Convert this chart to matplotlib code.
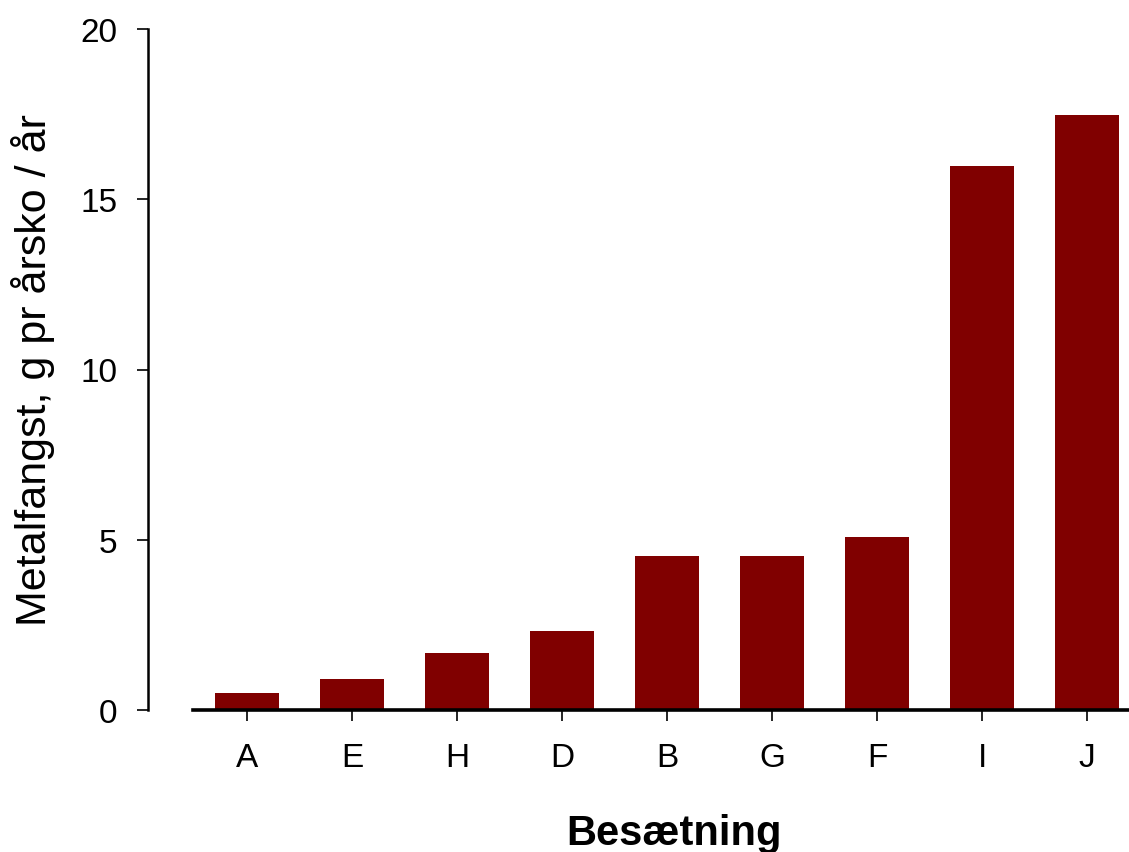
import numpy as np
import matplotlib.pyplot as plt

plt.rcParams['font.family'] = ['Liberation Sans', 'DejaVu Sans']

herds = ['A', 'E', 'H', 'D', 'B', 'G', 'F', 'I', 'J']
catch_g = [0.5, 0.92, 1.67, 2.32, 4.52, 4.53, 5.08, 15.98, 17.47]

fig = plt.figure(figsize=(11.29, 8.53), dpi=100)
ax = fig.add_axes([148/1129, 142/853, 981/1129, 681/853])

x = np.arange(len(herds))
ax.bar(x, catch_g, width=0.61, color='#800000', zorder=2)

ax.set_xlim(-0.943, 8.4)
ax.set_ylim(0, 20)
ax.set_yticks([0, 5, 10, 15, 20])
ax.set_xticks(x)
ax.set_xticklabels(herds)

ax.spines['top'].set_visible(False)
ax.spines['right'].set_visible(False)
ax.spines['left'].set_linewidth(1.8)
ax.spines['bottom'].set_linewidth(2.6)
ax.spines['bottom'].set_bounds(-0.514, 8.4)
ax.spines['bottom'].set_zorder(3)

ax.tick_params(axis='y', direction='out', length=8, width=1.2, labelsize=24, pad=14)
ax.tick_params(axis='x', direction='out', length=8, width=1.2, labelsize=24, pad=15)

ax.set_xlabel('Besætning', fontsize=30, fontweight='bold', labelpad=29)
ax.xaxis.label.set_x(0.536)
ax.set_ylabel('Metalfangst, g pr årsko / år', fontsize=31, labelpad=18)

fig.savefig('out.png', dpi=100)
